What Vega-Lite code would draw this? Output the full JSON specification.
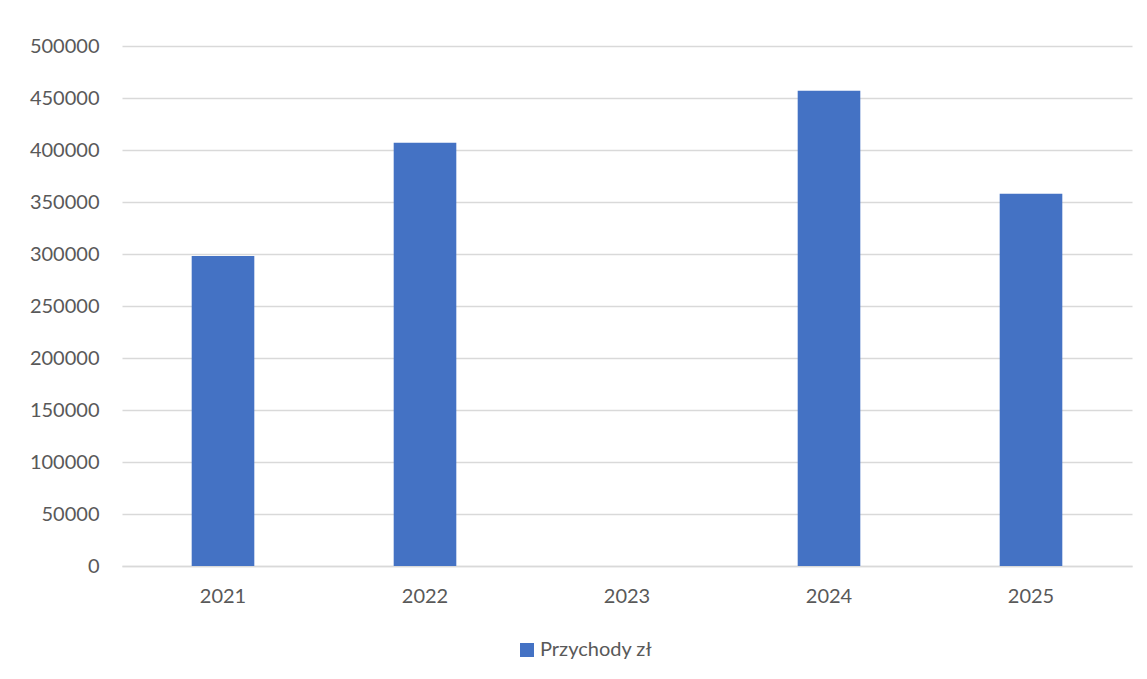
{
  "$schema": "https://vega.github.io/schema/vega-lite/v6.json",
  "width": 1010,
  "height": 520,
  "autosize": {"type": "none"},
  "padding": {"left": 122, "top": 46, "right": 15, "bottom": 113},
  "background": "white",
  "config": {
    "view": {"stroke": null},
    "font": "Lato",
    "axis": {"labelFont": "Lato", "labelColor": "#595959", "labelFontSize": 20}
  },
  "data": {
    "values": [
      {"rok": "2021", "seria": "Przychody zł", "wartosc": 298000},
      {"rok": "2022", "seria": "Przychody zł", "wartosc": 407000},
      {"rok": "2023", "seria": "Przychody zł", "wartosc": 0},
      {"rok": "2024", "seria": "Przychody zł", "wartosc": 457000},
      {"rok": "2025", "seria": "Przychody zł", "wartosc": 358000}
    ]
  },
  "mark": {"type": "bar", "color": "#4472c4"},
  "encoding": {
    "x": {
      "field": "rok",
      "type": "ordinal",
      "scale": {"domain": ["2021", "2022", "2023", "2024", "2025"], "paddingInner": 0.69, "paddingOuter": 0.345},
      "axis": {"title": null, "labelAngle": 0, "ticks": false, "domain": true, "domainColor": "#d9d9d9", "domainWidth": 1.5, "labelPadding": 20, "labelBaseline": "top"}
    },
    "y": {
      "field": "wartosc",
      "type": "quantitative",
      "scale": {"domain": [0, 500000], "nice": false},
      "axis": {"title": null, "values": [0, 50000, 100000, 150000, 200000, 250000, 300000, 350000, 400000, 450000, 500000], "format": "d", "ticks": false, "domain": false, "grid": true, "gridColor": "#d9d9d9", "gridWidth": 1.5, "labelPadding": 23}
    },
    "fill": {
      "field": "seria",
      "type": "nominal",
      "scale": {"range": ["#4472c4"]},
      "legend": {
        "title": null,
        "orient": "none",
        "legendX": 395,
        "legendY": 594,
        "symbolType": "square",
        "symbolSize": 196,
        "symbolStrokeWidth": 0,
        "labelFont": "Lato",
        "labelFontSize": 20,
        "labelColor": "#595959",
        "labelOffset": 3
      }
    }
  }
}
